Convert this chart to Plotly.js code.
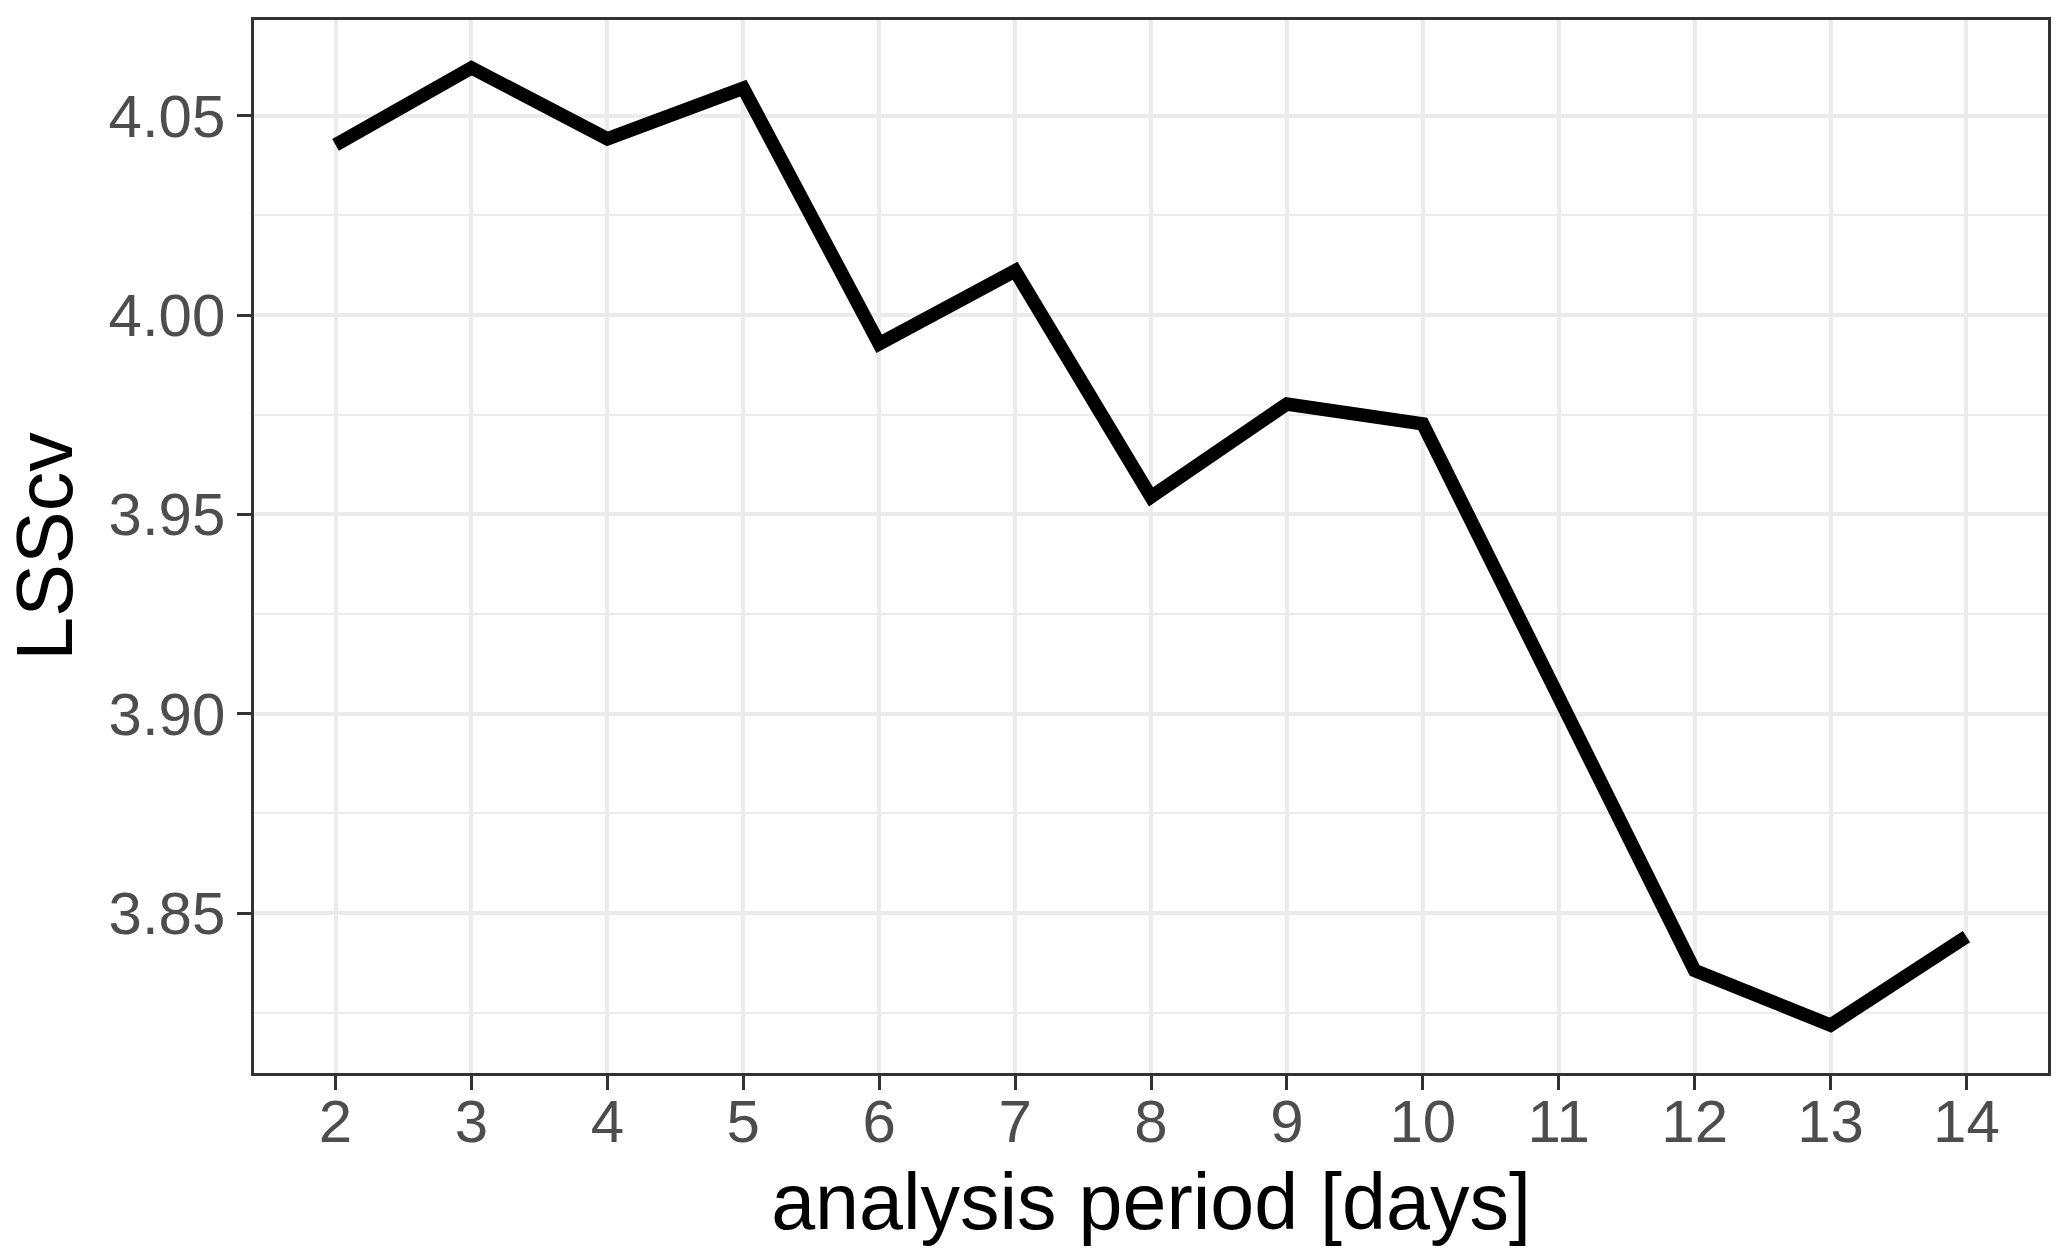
<!DOCTYPE html>
<html>
<head>
<meta charset="utf-8">
<script src="https://cdn.plot.ly/plotly-3.0.1.min.js"></script>
<style>
  html, body { margin: 0; padding: 0; background: #ffffff; }
  #chart { width: 2067px; height: 1257px; }
</style>
</head>
<body>
<div id="chart"></div>
<script>
// analysis period [days]
const periods = [2, 3, 4, 5, 6, 7, 8, 9, 10, 11, 12, 13, 14];
// LSScv values
const lsscv = [4.0427, 4.0620, 4.0442, 4.0569, 3.9928, 4.0111, 3.9544, 3.9777, 3.9727, 3.9050, 3.8356, 3.8219, 3.8441];
// y tick values and labels
const yTickVals = [3.85, 3.90, 3.95, 4.00, 4.05];
const yTickText = ["3.85", "3.90", "3.95", "4.00", "4.05"];
const xTickVals = periods;
const xTickText = periods.map(String);

// ggplot-like expansion: discrete x adds 0.6, continuous y adds 5%
const xMin = Math.min(...periods), xMax = Math.max(...periods);
const yMin = Math.min(...lsscv), yMax = Math.max(...lsscv);
const yPad = (yMax - yMin) * 0.05;

const FONT = '"Liberation Sans", Arial, Helvetica, sans-serif';

const trace = {
  x: periods,
  y: lsscv,
  type: 'scatter',
  mode: 'lines',
  line: { color: '#000000', width: 13.5 },
  hoverinfo: 'x+y',
  showlegend: false
};

const layout = {
  width: 2067,
  height: 1257,
  margin: { l: 254, r: 19, t: 20, b: 184, pad: 0 },
  paper_bgcolor: '#ffffff',
  plot_bgcolor: '#ffffff',
  font: { family: FONT, color: '#4D4D4D' },
  xaxis: {
    range: [xMin - 0.6, xMax + 0.6],
    tickmode: 'array',
    tickvals: xTickVals,
    ticktext: xTickText,
    ticks: 'outside',
    ticklen: 14,
    tickwidth: 3,
    tickcolor: '#333333',
    ticklabelstandoff: -20,
    tickfont: { family: FONT, size: 60, color: '#4D4D4D' },
    showgrid: true,
    gridcolor: '#EBEBEB',
    gridwidth: 4,
    zeroline: false,
    showline: true,
    mirror: true,
    linecolor: '#333333',
    linewidth: 2.7,
    automargin: false,
    title: { text: 'analysis period [days]', font: { family: FONT, size: 79, color: '#000000' }, standoff: 20 }
  },
  yaxis: {
    range: [yMin - yPad, yMax + yPad],
    tickmode: 'array',
    tickvals: yTickVals,
    ticktext: yTickText,
    ticks: 'outside',
    ticklen: 14,
    tickwidth: 3,
    tickcolor: '#333333',
    tickfont: { family: FONT, size: 60, color: '#4D4D4D' },
    showgrid: true,
    gridcolor: '#EBEBEB',
    gridwidth: 4,
    minor: { dtick: 0.025, tick0: 3.825, showgrid: true, gridcolor: '#EBEBEB', gridwidth: 2, ticks: '' },
    zeroline: false,
    showline: true,
    mirror: true,
    linecolor: '#333333',
    linewidth: 2.7,
    automargin: false,
    title: { text: 'LSScv', font: { family: FONT, size: 79, color: '#000000' }, standoff: 20 }
  }
};

Plotly.newPlot('chart', [trace], layout, { displayModeBar: false, staticPlot: true });
</script>
</body>
</html>
